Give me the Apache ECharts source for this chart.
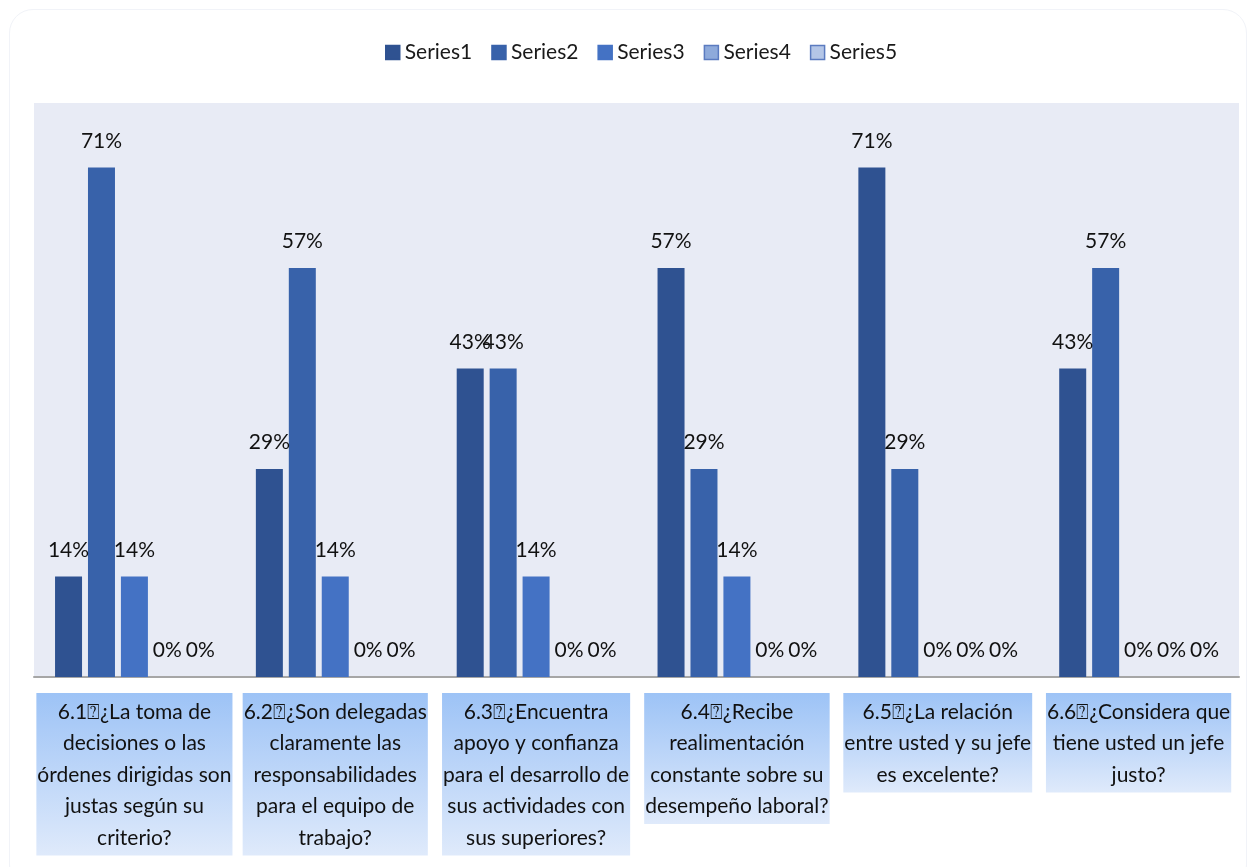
<!DOCTYPE html>
<html>
<head>
<meta charset="utf-8">
<title>Series chart</title>
<script src="https://cdn.jsdelivr.net/npm/echarts@6/dist/echarts.min.js"></script>
<style>
  html, body { margin: 0; padding: 0; background: #ffffff; }
  #frame { position: absolute; left: 9px; top: 9px; width: 1238px; height: 880px;
           border: 1px solid #f1f3f8; border-radius: 24px; box-sizing: border-box; }
  #chart { position: absolute; left: 0; top: 0; width: 1251px; height: 867px; }
</style>
</head>
<body>
<div id="frame"></div>
<div id="chart"></div>
<script>
// Question labels (pre-wrapped lines)
const categories = [
  '6.1⍰¿La toma de\ndecisiones o las\nórdenes dirigidas son\njustas según su\ncriterio?',
  '6.2⍰¿Son delegadas\nclaramente las\nresponsabilidades\npara el equipo de\ntrabajo?',
  '6.3⍰¿Encuentra\napoyo y confianza\npara el desarrollo de\nsus actividades con\nsus superiores?',
  '6.4⍰¿Recibe\nrealimentación\nconstante sobre su\ndesempeño laboral?',
  '6.5⍰¿La relación\nentre usted y su jefe\nes excelente?',
  '6.6⍰¿Considera que\ntiene usted un jefe\njusto?'
];

// Percent of answers per series
const series1 = [14, 29, 43, 57, 71, 43];
const series2 = [71, 57, 43, 29, 29, 57];
const series3 = [14, 14, 14, 14, 0, 0];
const series4 = [0, 0, 0, 0, 0, 0];
const series5 = [0, 0, 0, 0, 0, 0];

const seriesNames = ['Series1', 'Series2', 'Series3', 'Series4', 'Series5'];
const seriesData = [series1, series2, series3, series4, series5];
const fills = ['#2f5291', '#3862aa', '#4472c4', '#8eaadb', '#b4c6e7'];
const edges = ['#2f5291', '#3862aa', '#4472c4', '#5b7bc0', '#5b7bc0'];

const chart = echarts.init(document.getElementById('chart'), null, { renderer: 'canvas' });

const fontFamily = 'Lato, "DejaVu Sans", sans-serif';

chart.setOption({
  animation: false,
  backgroundColor: 'transparent',
  legend: {
    top: 37,
    left: 380,
    itemWidth: 14,
    itemHeight: 14,
    itemGap: 19,
    icon: 'rect',
    textStyle: { fontFamily, fontSize: 21, color: '#1a1a1a' },
    data: seriesNames.map((n, i) => ({
      name: n,
      itemStyle: { color: fills[i], borderColor: edges[i], borderWidth: 1.5 }
    }))
  },
  grid: {
    left: 34, right: 12, top: 103, bottom: 190,
    show: true, backgroundColor: '#e8ebf5', borderWidth: 0
  },
  xAxis: {
    type: 'category',
    data: categories,
    axisLine: { show: true, lineStyle: { color: '#a6a6a6', width: 2 } },
    axisTick: { show: false },
    axisLabel: {
      interval: 0,
      margin: 16,
      fontFamily,
      fontSize: 21,
      lineHeight: 31.5,
      color: '#111111',
      align: 'center',
      verticalAlign: 'top',
      padding: [3, 1, 2, 1],
      backgroundColor: new echarts.graphic.LinearGradient(0, 0, 0, 1, [
        { offset: 0, color: '#9dc3f6' },
        { offset: 1, color: '#dfeafb' }
      ])
    }
  },
  yAxis: {
    type: 'value',
    min: 0,
    max: 80,
    show: false,
    splitLine: { show: false }
  },
  series: seriesData.map((d, i) => ({
    name: seriesNames[i],
    type: 'bar',
    data: d,
    barWidth: 27,
    barGap: '22%',
    itemStyle: { color: fills[i], borderWidth: 0 },
    label: {
      show: true,
      position: 'top',
      distance: 16,
      formatter: '{c}%',
      fontFamily,
      fontSize: 21,
      color: '#111111'
    }
  }))
});
</script>
</body>
</html>
